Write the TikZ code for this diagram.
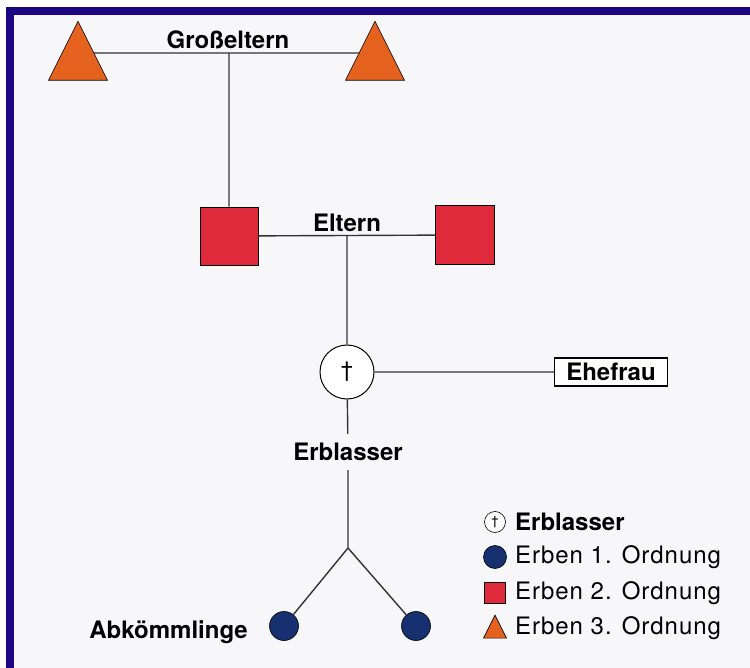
\documentclass[tikz,border=0pt]{standalone}
\usepackage{fontspec}
\setmainfont{TeX Gyre Heros}
\usetikzlibrary{shapes.geometric,positioning}
\definecolor{rahmen}{RGB}{28,6,132}
\definecolor{papier}{RGB}{247,247,250}
\definecolor{ordnung1}{RGB}{22,48,112}
\definecolor{ordnung2}{RGB}{222,42,58}
\definecolor{ordnung3}{RGB}{228,98,30}
\tikzset{
	dreieck/.style={
			isosceles triangle, isosceles triangle stretches,
			shape border rotate=90, draw=black, semithick, fill=ordnung3,
			inner sep=0pt, minimum width=#1, minimum height=#1
		}
}

\begin{document}
\begin{tikzpicture}[x=1pt, y=-1pt,
     linie/.style = {line width=1.4pt, black!80},
  beschrift/.style = {font=\fontsize{24}{28}\selectfont\bfseries, inner sep=2pt},
   legtext/.style = {font=\fontsize{24}{28}\selectfont\addfontfeature{LetterSpace=4},
                     anchor=west, inner sep=0pt},
   quadrat/.style = {draw=black, semithick, fill=ordnung2, minimum size=#1, inner sep=0pt},
     kreis/.style = {circle, draw=black, semithick, fill=ordnung1, minimum size=#1, inner sep=0pt},
      tote/.style = {circle, draw=black, line width=1pt, fill=white, minimum size=#1, inner sep=0pt}
                    ]
\useasboundingbox (0,0) rectangle (750,668);
\fill[white] (0,0) rectangle (750,668);
\fill[papier] (14,15) rectangle (750,668);
\fill[rahmen] (6,7) rectangle (750,15);
\fill[rahmen] (6,7) rectangle (14,668);

% Grosseltern
\coordinate (gal) at (78,53);
\coordinate (gar) at (375,53);
\node[beschrift, anchor=south] (gtext) at (228,51) {Großeltern};
% Eltern
\node[quadrat=58pt] (el) at (229,236) {};
\node[quadrat=59pt] (er) at (465,235) {};
\node[beschrift, anchor=south] (etext) at (347,234) {Eltern};
% Erblasser und Ehefrau
\node[tote=54pt, font=\fontsize{22}{24}\selectfont] (erb) at (347,372) {\textdagger};
\node[draw=black, line width=1.2pt, fill=white, beschrift, minimum width=113pt,
      minimum height=28pt, inner sep=0pt] (ehe) at (611,372) {Ehefrau};
\node[beschrift, inner sep=9pt] (erbtext) at (348,452) {Erblasser};
% Abkoemmlinge
\coordinate (gabel) at (348,548);
\node[kreis=29pt] (k1) at (284,626) {};
\node[kreis=29pt] (k2) at (416,626) {};
\node[beschrift, anchor=east] (ktext) at (250,632) {Abkömmlinge};

\coordinate (gm) at (el |- gal);
\coordinate (em) at (erb |- el);
\draw[linie] (gal) -- (gar)
             (gm) -- (el)
             (el) -- (er)
             (em) -- (erb)
             (erb) -- (ehe)
             (erb) -- (erbtext)
             (erbtext) -- (gabel)
             (gabel) -- (k1)
             (gabel) -- (k2);
\node[dreieck=59pt] (gl) at (78,62) {};
\node[dreieck=59pt] (gr) at (375,62) {};

% Legende
\node[tote=21pt, line width=0.6pt, font=\fontsize{13}{14}\selectfont] (l1) at (495,522) {\textdagger};
\node[kreis=23pt] (l2) at (495,557) {};
\node[quadrat=21pt] (l3) at (495,593) {};
\node[dreieck=23pt] (l4) at (495,631) {};
\node[legtext, font=\fontsize{24}{28}\selectfont\bfseries] (t1) at (515,522) {Erblasser};
\node[legtext] (t2) at (515,557) {Erben 1. Ordnung};
\node[legtext] (t3) at (515,593) {Erben 2. Ordnung};
\node[legtext] (t4) at (515,628) {Erben 3. Ordnung};
\end{tikzpicture}
\end{document}
